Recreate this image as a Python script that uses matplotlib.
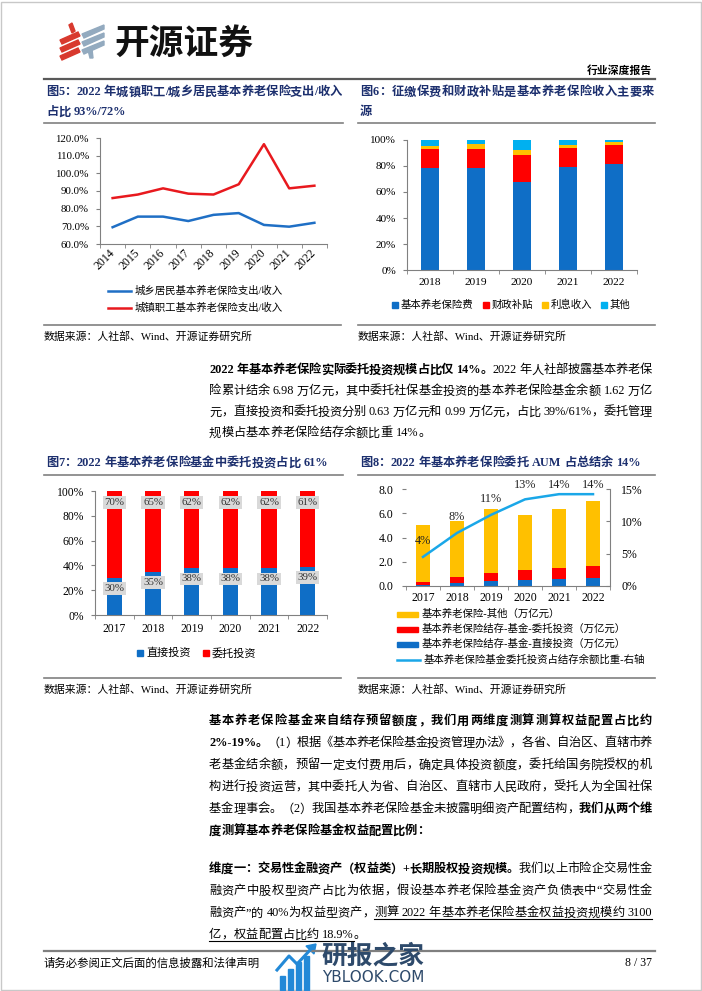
import matplotlib
matplotlib.use('Agg')
import matplotlib.pyplot as plt
import numpy as np
from matplotlib import font_manager
from matplotlib.patches import Rectangle, Polygon
from matplotlib.lines import Line2D

names = {f.name for f in font_manager.fontManager.ttflist}
CJK = 'Noto Serif CJK SC' if 'Noto Serif CJK SC' in names else 'Noto Sans CJK SC'
FAM = ['Liberation Serif', CJK, 'DejaVu Sans']
SANS = ['Noto Sans CJK SC', 'DejaVu Sans']
plt.rcParams['font.family'] = FAM

# ---- data ----
years5 = ['2014', '2015', '2016', '2017', '2018', '2019', '2020', '2021', '2022']
rural_ratio = [69.5, 75.5, 75.5, 73.0, 76.5, 77.5, 70.8, 69.8, 72.0]
urban_ratio = [86.0, 88.0, 91.5, 88.5, 88.0, 93.8, 116.5, 91.5, 93.0]
labels5 = ['城乡居民基本养老保险支出/收入', '城镇职工基本养老保险支出/收入']

years6 = ['2018', '2019', '2020', '2021', '2022']
inc_premium = [78.8, 78.8, 68.0, 79.3, 81.3]
inc_subsidy = [14.3, 14.6, 20.7, 14.8, 14.6]
inc_interest = [2.3, 3.3, 3.6, 2.1, 2.3]
inc_other = [4.6, 3.3, 7.7, 3.8, 1.8]
labels6 = ['基本养老保险费', '财政补贴', '利息收入', '其他']

years7 = ['2017', '2018', '2019', '2020', '2021', '2022']
direct_pct = [30, 35, 38, 38, 38, 39]
entrust_pct = [70, 65, 62, 62, 62, 61]
labels7 = ['直接投资', '委托投资']

years8 = ['2017', '2018', '2019', '2020', '2021', '2022']
fund_direct = [0.10, 0.25, 0.42, 0.49, 0.57, 0.63]
fund_entrust = [0.23, 0.47, 0.68, 0.81, 0.93, 0.99]
balance_other = [4.70, 4.63, 5.22, 4.53, 4.88, 5.36]
entrust_share = [4.5, 8.2, 11.0, 13.4, 14.2, 14.2]
share_labels = ['4%', '8%', '11%', '13%', '14%', '14%']
labels8 = ['基本养老保险-其他（万亿元）', '基本养老保险结存-基金-委托投资（万亿元）',
           '基本养老保险结存-基金-直接投资（万亿元）', '基本养老保险基金委托投资占结存余额比重-右轴']

BLUE, RED, YEL, LBLUE = '#0F6EC6', '#FF0000', '#FFC000', '#00B0F0'
NAVY = '#1C2F6E'
GRAY = '#808080'

W, H = 702, 991
fig = plt.figure(figsize=(7.02, 9.91), dpi=100)
renderer = fig.canvas.get_renderer()


def fx(x):
    return x / W


def fy(y):
    return 1 - y / H


def add_ax(l, t, r, b):
    return fig.add_axes([fx(l), fy(b), (r - l) / W, (b - t) / H])


def hline(x0, x1, y, color=GRAY, lw=1.2):
    fig.add_artist(Line2D([fx(x0), fx(x1)], [fy(y), fy(y)], color=color, lw=lw))


def tokens(segs):
    out = []
    for txt, style in segs:
        buf = ''
        for ch in txt:
            if ord(ch) > 0x2000 or ch == ' ':
                if buf:
                    out.append((buf, style))
                    buf = ''
                out.append((ch, style))
            else:
                buf += ch
        if buf:
            out.append((buf, style))
    return out


def text_line(x0, x1, yc, segs, size=8.8, color='black', justify=True):
    px = size * 100 / 72
    yb = yc + 0.36 * px
    items = []
    for s, style in tokens(segs):
        if s == ' ':
            items.append((None, px * 0.25, style))
            continue
        t = fig.text(0, fy(yb), s, fontsize=size, color=color, va='baseline', ha='left',
                     fontweight='bold' if 'b' in style else 'normal')
        items.append((t, t.get_window_extent(renderer).width, style))
    total = sum(w for _, w, _ in items)
    gap = (x1 - x0 - total) / (len(items) - 1) if justify and len(items) > 1 else 0
    x = x0
    ux = []
    for t, w, style in items:
        if t is not None:
            t.set_x(fx(x))
        if 'u' in style:
            ux += [x, x + w]
        x += w + gap
    if ux:
        hline(min(ux), max(ux), yb + 3, color='black', lw=0.8)


def legend_item(x, y, color, label, kind='square', size=7.5):
    if kind == 'square':
        fig.add_artist(Rectangle((fx(x), fy(y + 3)), 6 / W, 6 / H, color=color))
        tx = x + 9
    elif kind == 'bar':
        fig.add_artist(Rectangle((fx(x), fy(y + 2.5)), 21 / W, 5 / H, color=color))
        tx = x + 25
    else:
        fig.add_artist(Line2D([fx(x), fx(x + 23)], [fy(y), fy(y)], color=color, lw=1.8))
        tx = x + 27
    fig.text(fx(tx), fy(y), label, fontsize=size, va='center', ha='left')


def style_ax(ax, n, size, pad_x, pad_y, ysize=None):
    for s in ['top', 'right']:
        ax.spines[s].set_visible(False)
    for s in ['left', 'bottom']:
        ax.spines[s].set_color(GRAY)
        ax.spines[s].set_linewidth(0.8)
    ax.set_xlim(-0.5, n - 0.5)
    ax.set_xticks(np.arange(n))
    ax.set_xticks(np.arange(-0.5, n), minor=True)
    ax.tick_params(axis='x', which='major', length=0, labelsize=size, pad=pad_x)
    ax.tick_params(axis='x', which='minor', length=3, color=GRAY)
    ax.tick_params(axis='y', length=3, color=GRAY, labelsize=ysize or size, pad=pad_y)


# ---- page frame / header ----
fig.add_artist(Rectangle((0.002, 0.001), 0.996, 0.997, fill=False, ec='#C8C8C8', lw=1))
for i in range(3):
    y0 = 35 + i * 8
    fig.add_artist(Polygon([(fx(60), fy(y0 + 5)), (fx(78), fy(y0 - 3)), (fx(80), fy(y0 + 1)),
                            (fx(62), fy(y0 + 9))], color='#D8392E'))
fig.add_artist(Polygon([(fx(69), fy(25)), (fx(72), fy(23)), (fx(75), fy(31)), (fx(72), fy(33))],
                       color='#D8392E'))
for i in range(3):
    y0 = 28 + i * 8
    fig.add_artist(Polygon([(fx(82), fy(y0 + 6)), (fx(104), fy(y0 - 3)), (fx(104), fy(y0 + 1)),
                            (fx(84), fy(y0 + 10))], color='#93AABF'))
fig.add_artist(Polygon([(fx(88), fy(50)), (fx(92), fy(49)), (fx(93), fy(58)), (fx(90), fy(58))],
                       color='#93AABF'))
fig.text(fx(114), fy(43), '开源证券', fontsize=25, fontweight='bold', family=SANS,
         va='center', ha='left', color='#111111')
fig.text(fx(652), fy(71), '行业深度报告', fontsize=7.8, fontweight='bold', va='center', ha='right')
hline(44, 655, 79, color='#595959', lw=1.6)

# ---- figure 5 / 6 titles ----
text_line(46, 342, 91, [('图5：2022 年城镇职工/城乡居民基本养老保险支出/收入', 'b')], color=NAVY)
text_line(46, 342, 111, [('占比 93%/72%', 'b')], color=NAVY, justify=False)
text_line(360, 654, 91, [('图6：征缴保费和财政补贴是基本养老保险收入主要来', 'b')], color=NAVY)
text_line(360, 654, 111, [('源', 'b')], color=NAVY, justify=False)
hline(44, 343, 123)
hline(358, 655, 123)

# ---- chart 5 ----
ax5 = add_ax(100, 138, 327, 244)
x5 = np.arange(len(years5))
ax5.plot(x5, rural_ratio, color='#1F6FC5', lw=1.8)
ax5.plot(x5, urban_ratio, color='#E8191E', lw=1.8)
style_ax(ax5, len(years5), 8.5, 5, 5, ysize=7.8)
ax5.set_ylim(60, 120)
ax5.set_yticks(range(60, 121, 10))
ax5.set_yticklabels([f'{v:.1f}%' for v in range(60, 121, 10)])
ax5.set_xticklabels(years5, rotation=45, ha='right', va='center', rotation_mode='anchor')
legend_item(108, 291, '#1F6FC5', labels5[0], kind='line')
legend_item(108, 308, '#E8191E', labels5[1], kind='line')

# ---- chart 6 ----
ax6 = add_ax(407, 140, 637, 270)
x6 = np.arange(len(years6))
bottom = np.zeros(len(years6))
for vals, col in zip([inc_premium, inc_subsidy, inc_interest, inc_other], [BLUE, RED, YEL, LBLUE]):
    ax6.bar(x6, vals, 0.4, bottom=bottom, color=col)
    bottom += np.array(vals)
style_ax(ax6, len(years6), 8.2, 6, 5, ysize=8)
ax6.set_ylim(0, 100)
ax6.set_yticks(range(0, 101, 20))
ax6.set_yticklabels([f'{v}%' for v in range(0, 101, 20)])
ax6.set_xticklabels(years6)
for xl, col, lab in zip([392, 483, 542, 601], [BLUE, RED, YEL, LBLUE], labels6):
    legend_item(xl, 305, col, lab)

# ---- sources ----
hline(44, 341, 325)
hline(358, 655, 325)
fig.text(fx(44), fy(336), '数据来源：人社部、Wind、开源证券研究所', fontsize=7.8, va='center')
fig.text(fx(358), fy(336), '数据来源：人社部、Wind、开源证券研究所', fontsize=7.8, va='center')

# ---- paragraph 1 ----
X0, X1 = 209, 652
text_line(X0, X1, 369, [('2022 年基本养老保险实际委托投资规模占比仅 14%。', 'b'), ('2022 年人社部披露基本养老保', '')])
text_line(X0, X1, 390, [('险累计结余 6.98 万亿元，其中委托社保基金投资的基本养老保险基金余额 1.62 万亿', '')])
text_line(X0, X1, 411, [('元，直接投资和委托投资分别 0.63 万亿元和 0.99 万亿元，占比 39%/61%，委托管理', '')])
text_line(X0, X1, 432, [('规模占基本养老保险结存余额比重 14%。', '')], justify=False)

# ---- figure 7 / 8 titles ----
text_line(46, 342, 462, [('图7：2022 年基本养老保险基金中委托投资占比 61%', 'b')], color=NAVY, justify=False)
text_line(360, 654, 462, [('图8：2022 年基本养老保险委托 AUM 占总结余 14%', 'b')], color=NAVY, justify=False)
hline(44, 343, 475)
hline(358, 655, 475)

# ---- chart 7 ----
ax7 = add_ax(95, 491, 327, 615)
x7 = np.arange(len(years7))
ax7.bar(x7, direct_pct, 0.4, color=BLUE)
ax7.bar(x7, entrust_pct, 0.4, bottom=direct_pct, color=RED)
style_ax(ax7, len(years7), 8.4, 6, 5)
ax7.set_ylim(0, 100)
ax7.set_yticks(range(0, 101, 20))
ax7.set_yticklabels([f'{v}%' for v in range(0, 101, 20)])
ax7.set_xticklabels(years7)
box = dict(boxstyle='square,pad=0.15', fc='#D9D9D9', ec='none')
for i in range(len(years7)):
    ax7.text(x7[i], direct_pct[i] - 8.7, f'{direct_pct[i]}%', ha='center', va='center',
             fontsize=7.8, color='#333333', bbox=box)
    ax7.text(x7[i], direct_pct[i] + entrust_pct[i] - 9.2, f'{entrust_pct[i]}%', ha='center',
             va='center', fontsize=7.8, color='#333333', bbox=box)
legend_item(137, 653, BLUE, labels7[0], size=8)
legend_item(203, 653, RED, labels7[1], size=8)

# ---- chart 8 ----
ax8 = add_ax(406, 489, 610, 586)
x8 = np.arange(len(years8))
ax8.bar(x8, fund_direct, 0.42, color=BLUE)
ax8.bar(x8, fund_entrust, 0.42, bottom=fund_direct, color=RED)
ax8.bar(x8, balance_other, 0.42, bottom=np.add(fund_direct, fund_entrust), color=YEL)
style_ax(ax8, len(years8), 8.5, 4, 6)
ax8.spines['left'].set_visible(False)
ax8.set_ylim(0, 8)
ax8.set_yticks(np.arange(0, 8.1, 2))
ax8.set_yticklabels([f'{v:.1f}' for v in np.arange(0, 8.1, 2)])
ax8.set_xticklabels(years8)
ax8b = ax8.twinx()
ax8b.set_ylim(0, 15)
ax8b.plot(x8, entrust_share, color='#1AA7E8', lw=1.8)
for s in ['top', 'left', 'bottom']:
    ax8b.spines[s].set_visible(False)
ax8b.spines['right'].set_color(GRAY)
ax8b.spines['right'].set_linewidth(0.8)
ax8b.set_yticks([0, 5, 10, 15])
ax8b.set_yticklabels(['0%', '5%', '10%', '15%'])
ax8b.tick_params(axis='y', length=3, direction='in', color=GRAY, labelsize=8.5, pad=8)
for i in range(len(years8)):
    ax8b.text(x8[i], min(entrust_share[i] + 2.4, 15.6), share_labels[i], ha='center',
              va='center', fontsize=8.8, color='#222222')
legend_item(397, 614, YEL, labels8[0], kind='bar')
legend_item(397, 629, RED, labels8[1], kind='bar')
legend_item(397, 644, BLUE, labels8[2], kind='bar')
legend_item(397, 660, '#1AA7E8', labels8[3], kind='line')

hline(44, 341, 678)
hline(358, 655, 678)
fig.text(fx(44), fy(689), '数据来源：人社部、Wind、开源证券研究所', fontsize=7.8, va='center')
fig.text(fx(358), fy(689), '数据来源：人社部、Wind、开源证券研究所', fontsize=7.8, va='center')

# ---- paragraph 2 ----
text_line(X0, X1, 720, [('基本养老保险基金来自结存预留额度，我们用两维度测算测算权益配置占比约', 'b')])
text_line(X0, X1, 742, [('2%-19%。', 'b'), ('（1）根据《基本养老保险基金投资管理办法》，各省、自治区、直辖市养', '')])
text_line(X0, X1, 764, [('老基金结余额，预留一定支付费用后，确定具体投资额度，委托给国务院授权的机', '')])
text_line(X0, X1, 786, [('构进行投资运营，其中委托人为省、自治区、直辖市人民政府，受托人为全国社保', '')])
text_line(X0, X1, 808, [('基金理事会。（2）我国基本养老保险基金未披露明细资产配置结构，', ''), ('我们从两个维', 'b')])
text_line(X0, X1, 830, [('度测算基本养老保险基金权益配置比例：', 'b')], justify=False)

# ---- paragraph 3 ----
text_line(X0, X1, 868, [('维度一：交易性金融资产（权益类）+长期股权投资规模。', 'b'), ('我们以上市险企交易性金', '')])
text_line(X0, X1, 890, [('融资产中股权型资产占比为依据，假设基本养老保险基金资产负债表中“交易性金', '')])
text_line(X0, X1, 912, [('融资产”的 40%为权益型资产，', ''), ('测算 2022 年基本养老保险基金权益投资规模约 3100', 'u')])
text_line(X0, X1, 934, [('亿，权益配置占比约 18.9%', 'u'), ('。', '')], justify=False)

# ---- footer ----
hline(44, 655, 951, color='#7F7F7F', lw=1.6)
fig.text(fx(44), fy(963), '请务必参阅正文后面的信息披露和法律声明', fontsize=8.2, va='center')
fig.text(fx(652), fy(963), '8 / 37', fontsize=8.5, va='center', ha='right')

# watermark
WM = '#2389D7'
for bx, top in zip([280, 288, 296, 304], [976, 969, 962, 956]):
    fig.add_artist(Rectangle((fx(bx), fy(990)), 5 / W, (990 - top) / H, color=WM))
fig.add_artist(Line2D([fx(277), fx(289), fx(297), fx(312)], [fy(970), fy(956), fy(964), fy(948)],
                      color=WM, lw=2.2))
fig.add_artist(Polygon([(fx(306), fy(946)), (fx(316), fy(944)), (fx(314), fy(954))], color=WM))
fig.text(fx(321), fy(956), '研报之家', fontsize=18.5, fontweight='bold', family=SANS,
         va='center', ha='left', color='#2E4A6B')
fig.text(fx(322), fy(977), 'YBLOOK.COM', fontsize=11, family=['DejaVu Sans'],
         va='center', ha='left', color='#2E4A6B')

fig.savefig('out.png', dpi=100)
